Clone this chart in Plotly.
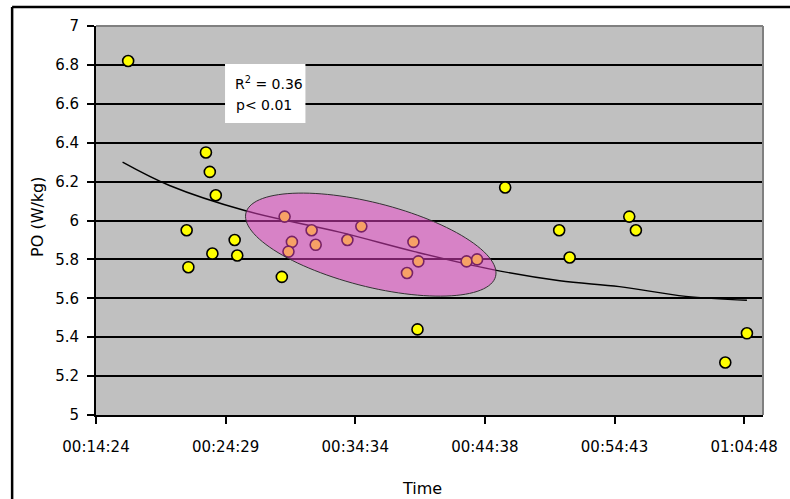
import numpy as np
import plotly.graph_objects as go

# ---- data ----
time_s = [1014, 1377, 1395, 1423, 1287, 1511, 1407, 1523, 1295, 1731,
          2773, 3025, 3074, 3352, 3383, 2364, 3901, 3800,
          1744, 1870, 2102, 1778, 1889, 1762, 2037, 2345, 2368, 2315, 2593, 2642]
po_wkg = [6.82, 6.35, 6.25, 6.13, 5.95, 5.90, 5.83, 5.82, 5.76, 5.71,
          6.17, 5.95, 5.81, 6.02, 5.95, 5.44, 5.42, 5.27,
          6.02, 5.95, 5.97, 5.89, 5.875, 5.84, 5.90, 5.89, 5.79, 5.73, 5.79, 5.80]
trend_time_s = [988, 1207, 1562, 2000, 2350, 2704, 3028, 3306, 3615, 3901]
trend_po = [6.30, 6.18, 6.05, 5.94, 5.84, 5.75, 5.69, 5.66, 5.61, 5.59]
x_tick_s = [864, 1468.8, 2073.6, 2678.4, 3283.2, 3888]
x_tick_labels = ["00:14:24", "00:24:29", "00:34:34", "00:44:38", "00:54:43", "01:04:48"]
y_tick_vals = [5, 5.2, 5.4, 5.6, 5.8, 6, 6.2, 6.4, 6.6, 6.8, 7]
y_tick_labels = ["5", "5.2", "5.4", "5.6", "5.8", "6", "6.2", "6.4", "6.6", "6.8", "7"]
stats_lines = ["R<sup>2</sup> = 0.36", "p< 0.01"]

# ---- layout geometry ----
W, H = 790, 499
ML, MR, MT, MB = 96, 22, 26, 84
X_RANGE = [864, 3976]
Y_RANGE = [5, 7]
plot_w = W - ML - MR
plot_h = H - MT - MB
px_per_x = plot_w / (X_RANGE[1] - X_RANGE[0])
px_per_y = plot_h / (Y_RANGE[1] - Y_RANGE[0])

FONT = "DejaVu Sans"

fig = go.Figure()
fig.add_trace(go.Scatter(
    x=trend_time_s, y=trend_po, mode="lines",
    line=dict(color="black", width=1.4, shape="spline"),
    hoverinfo="skip", showlegend=False))
fig.add_trace(go.Scatter(
    x=time_s, y=po_wkg, mode="markers",
    marker=dict(size=11, color="#FFFF00", line=dict(color="black", width=1.6)),
    showlegend=False))

# highlight ellipse (pixel-based geometry converted into data units)
cx, cy = 2146, 5.876
a_px, b_px, theta = 129.7, 41.9, np.radians(14.15)
t = np.linspace(0, 2 * np.pi, 120)
dx = a_px * np.cos(theta) * np.cos(t) - b_px * np.sin(theta) * np.sin(t)
dy = a_px * np.sin(theta) * np.cos(t) + b_px * np.cos(theta) * np.sin(t)
ex = cx + dx / px_per_x
ey = cy - dy / px_per_y
path = "M " + " L ".join(f"{x:.3f},{y:.5f}" for x, y in zip(ex, ey)) + " Z"

shapes = [
    dict(type="path", path=path, xref="x", yref="y", layer="above",
         fillcolor="rgba(238,68,204,0.5)", line=dict(color="#333333", width=1)),
    # plot-area top/right border
    dict(type="line", xref="paper", yref="paper", x0=0, x1=1, y0=1, y1=1,
         line=dict(color="#808080", width=2), layer="above"),
    dict(type="line", xref="paper", yref="paper", x0=1, x1=1, y0=0, y1=1,
         line=dict(color="#808080", width=2), layer="above"),
    # white stats box
    dict(type="rect", xref="paper", yref="paper",
         x0=(226 - ML) / plot_w, x1=(307 - ML) / plot_w,
         y0=(MT + plot_h - 123) / plot_h, y1=(MT + plot_h - 64) / plot_h,
         fillcolor="white", line=dict(width=0), layer="above"),
    # outer chart border (left and top)
    dict(type="line", xref="paper", yref="paper",
         x0=(11.5 - ML) / plot_w, x1=(11.5 - ML) / plot_w,
         y0=(MT + plot_h - 520) / plot_h, y1=(MT + plot_h - 7) / plot_h,
         line=dict(color="black", width=2.5)),
    dict(type="line", xref="paper", yref="paper",
         x0=(11.5 - ML) / plot_w, x1=(800 - ML) / plot_w,
         y0=(MT + plot_h - 7) / plot_h, y1=(MT + plot_h - 7) / plot_h,
         line=dict(color="black", width=2.5)),
]

def px_to_paper(px, py):
    return (px - ML) / plot_w, (MT + plot_h - py) / plot_h

annotations = []
for (px, py), txt in zip([(270, 83.5), (265, 104.5)], stats_lines):
    xp, yp = px_to_paper(px, py)
    annotations.append(dict(x=xp, y=yp, xref="paper", yref="paper", text=txt,
                            showarrow=False, xanchor="center", yanchor="middle",
                            font=dict(family=FONT, size=14, color="black")))
xp, yp = px_to_paper(424, 489)
annotations.append(dict(x=xp, y=yp, xref="paper", yref="paper", text="Time",
                        showarrow=False, xanchor="center", yanchor="middle",
                        font=dict(family=FONT, size=16, color="black")))
xp, yp = px_to_paper(36.5, 217)
annotations.append(dict(x=xp, y=yp, xref="paper", yref="paper", text="PO (W/kg)",
                        showarrow=False, xanchor="center", yanchor="middle", textangle=-90,
                        font=dict(family=FONT, size=16, color="black")))

fig.update_layout(
    width=W, height=H,
    margin=dict(l=ML, r=MR, t=MT, b=MB, pad=0),
    paper_bgcolor="white", plot_bgcolor="#C0C0C0",
    font=dict(family=FONT, size=15, color="black"),
    shapes=shapes, annotations=annotations,
    xaxis=dict(range=X_RANGE, tickmode="array", tickvals=x_tick_s, ticktext=x_tick_labels,
               showgrid=False, zeroline=False, showline=True, linecolor="black", linewidth=2,
               ticks="outside", ticklen=7, tickwidth=2, tickcolor="black",
               ticklabelstandoff=10, tickfont=dict(family=FONT, size=15)),
    yaxis=dict(range=Y_RANGE, tickmode="array", tickvals=y_tick_vals, ticktext=y_tick_labels,
               showgrid=True, gridcolor="black", gridwidth=1.6, zeroline=False,
               showline=True, linecolor="black", linewidth=2,
               ticks="outside", ticklen=7, tickwidth=2, tickcolor="black",
               ticklabelstandoff=5, tickfont=dict(family=FONT, size=15)),
)

fig.write_html("out.html", config={"displayModeBar": False},
               post_script="document.body.style.margin='0';")
